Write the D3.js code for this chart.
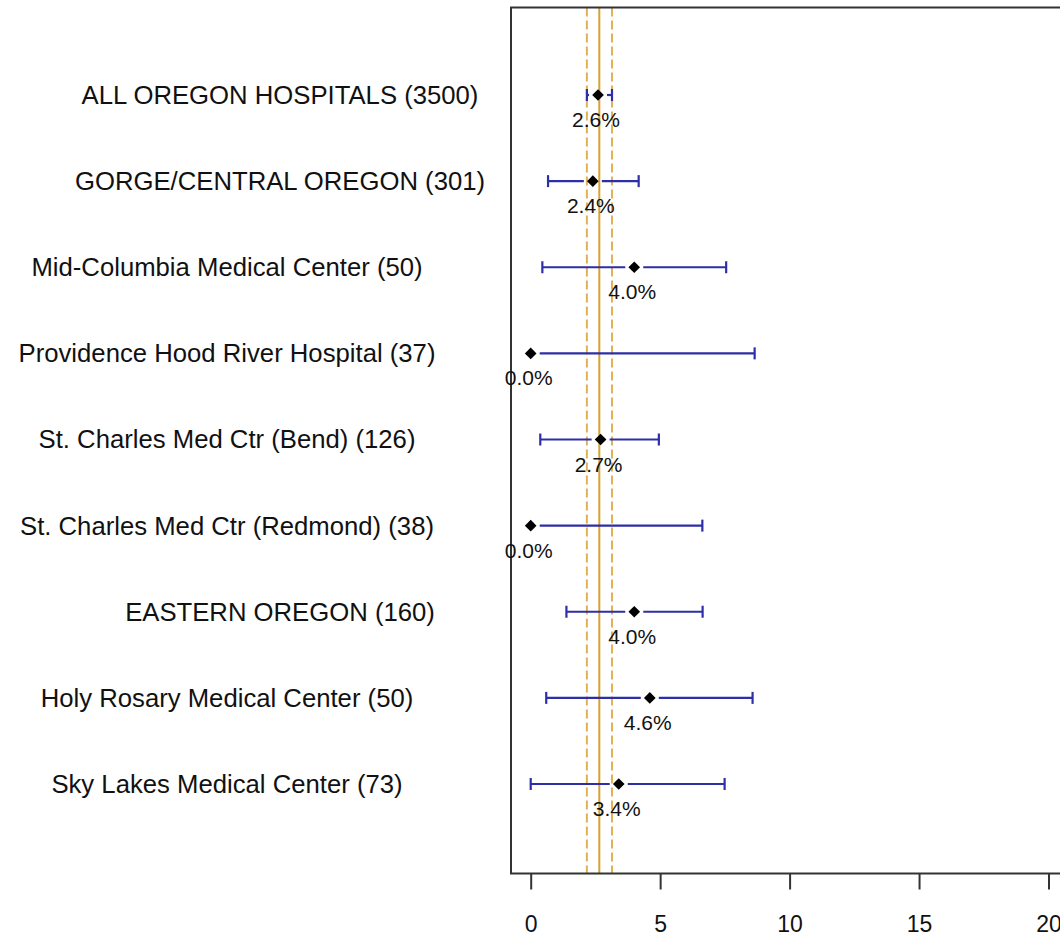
<!DOCTYPE html>
<html>
<head>
<meta charset="utf-8">
<script src="https://cdn.jsdelivr.net/npm/d3@7"></script>
<style>
	body { margin: 0; background: #fff; }
	text { font-family: "Liberation Sans", Arial, sans-serif; fill: #111; }
</style>
</head>
<body>
<script>
// * Data

const hospitals = [
	"ALL OREGON HOSPITALS (3500)",
	"GORGE/CENTRAL OREGON (301)",
	"Mid-Columbia Medical Center (50)",
	"Providence Hood River Hospital (37)",
	"St. Charles Med Ctr (Bend) (126)",
	"St. Charles Med Ctr (Redmond) (38)",
	"EASTERN OREGON (160)",
	"Holy Rosary Medical Center (50)",
	"Sky Lakes Medical Center (73)",
];
// region rows (all caps) vs single hospitals
const level = ["region", "region", "hospital", "hospital", "hospital", "hospital", "region", "hospital", "hospital"];
const rates = [2.6, 2.4, 4.0, 0.0, 2.7, 0.0, 4.0, 4.6, 3.4];
const lower = [2.17, 0.67, 0.45, 0.0, 0.37, 0.0, 1.38, 0.6, 0.0];
const upper = [3.14, 4.17, 7.55, 8.65, 4.95, 6.63, 6.64, 8.57, 7.49];

const overallRate = 2.65;
const overallLower = 2.17;
const overallUpper = 3.14;

const xTicks = [0, 5, 10, 15, 20];

// * Size & Margins

const width = 1060;
const height = 940;
const box = { left: 511, top: 7.5, bottom: 873.5, right: 1100 };

const svg = d3
	.select("body")
	.append("svg")
	.attr("width", width)
	.attr("height", height);

// * Scales
const x = d3.scaleLinear().domain([0, 20]).range([530.7, 1048.5]);
const y = d3.scalePoint().domain(hospitals).range([95, 784]);

const rows = hospitals.map((name, i) => ({
	name,
	level: level[i],
	rate: rates[i],
	lo: lower[i],
	hi: upper[i],
}));

// * Reference lines (overall rate and its interval)
svg.append("line")
	.attr("x1", x(overallRate))
	.attr("x2", x(overallRate))
	.attr("y1", box.top)
	.attr("y2", box.bottom)
	.attr("stroke", "#d9a032")
	.attr("stroke-width", 2);

svg.selectAll(".ref-dash")
	.data([overallLower, overallUpper])
	.join("line")
	.attr("class", "ref-dash")
	.attr("x1", (d) => x(d))
	.attr("x2", (d) => x(d))
	.attr("y1", box.top)
	.attr("y2", box.bottom)
	.attr("stroke", "#e2b156")
	.attr("stroke-width", 2)
	.attr("stroke-dasharray", "9,4");

// * Box
svg.append("rect")
	.attr("x", box.left)
	.attr("y", box.top)
	.attr("width", box.right - box.left)
	.attr("height", box.bottom - box.top)
	.attr("fill", "none")
	.attr("stroke", "#333")
	.attr("stroke-width", 2);

// * X axis
const xAxis = svg.append("g")
	.attr("transform", `translate(0,${box.bottom})`)
	.call(d3.axisBottom(x).tickValues(xTicks).tickSize(16).tickPadding(26));
xAxis.select(".domain").remove();
xAxis.selectAll(".tick line").attr("stroke", "#333").attr("stroke-width", 2);
xAxis.selectAll(".tick text")
	.attr("font-size", "23px")
	.attr("font-family", "\"Liberation Sans\", Arial, sans-serif")
	.attr("fill", "#111");

// * Row labels
svg.selectAll(".row-label")
	.data(rows)
	.join("text")
	.attr("class", "row-label")
	.attr("x", (d) => (d.level === "region" ? 280 : 227))
	.attr("y", (d) => y(d.name))
	.attr("dy", "0.35em")
	.attr("text-anchor", "middle")
	.attr("font-size", "25.7px")
	.text((d) => d.name);

// * Error bars (split around the point)
const gap = 9;
const bars = svg.selectAll(".bar")
	.data(rows)
	.join("g")
	.attr("class", "bar")
	.attr("stroke", "#2e2ea6")
	.attr("stroke-width", 2.2);

bars.each(function (d) {
	const g = d3.select(this);
	const cy = y(d.name);
	const cx = x(d.rate);
	if (x(d.lo) < cx - gap) {
		g.append("line").attr("x1", x(d.lo)).attr("x2", cx - gap).attr("y1", cy).attr("y2", cy);
		g.append("line").attr("x1", x(d.lo)).attr("x2", x(d.lo)).attr("y1", cy - 6).attr("y2", cy + 6);
	}
	if (x(d.hi) > cx + gap) {
		g.append("line").attr("x1", cx + gap).attr("x2", x(d.hi)).attr("y1", cy).attr("y2", cy);
		g.append("line").attr("x1", x(d.hi)).attr("x2", x(d.hi)).attr("y1", cy - 6).attr("y2", cy + 6);
	}
});

// * Points
svg.selectAll(".pt")
	.data(rows)
	.join("path")
	.attr("class", "pt")
	.attr("d", d3.symbol(d3.symbolSquare, 68))
	.attr("transform", (d) => `translate(${x(d.rate)},${y(d.name)}) rotate(45)`)
	.attr("fill", "#000");

// * Rate labels
svg.selectAll(".rate-label")
	.data(rows)
	.join("text")
	.attr("class", "rate-label")
	.attr("x", (d) => x(d.rate) - 2)
	.attr("y", (d) => y(d.name) + 32)
	.attr("text-anchor", "middle")
	.attr("font-size", "21px")
	.text((d) => d.rate.toFixed(1) + "%");
</script>
</body>
</html>
